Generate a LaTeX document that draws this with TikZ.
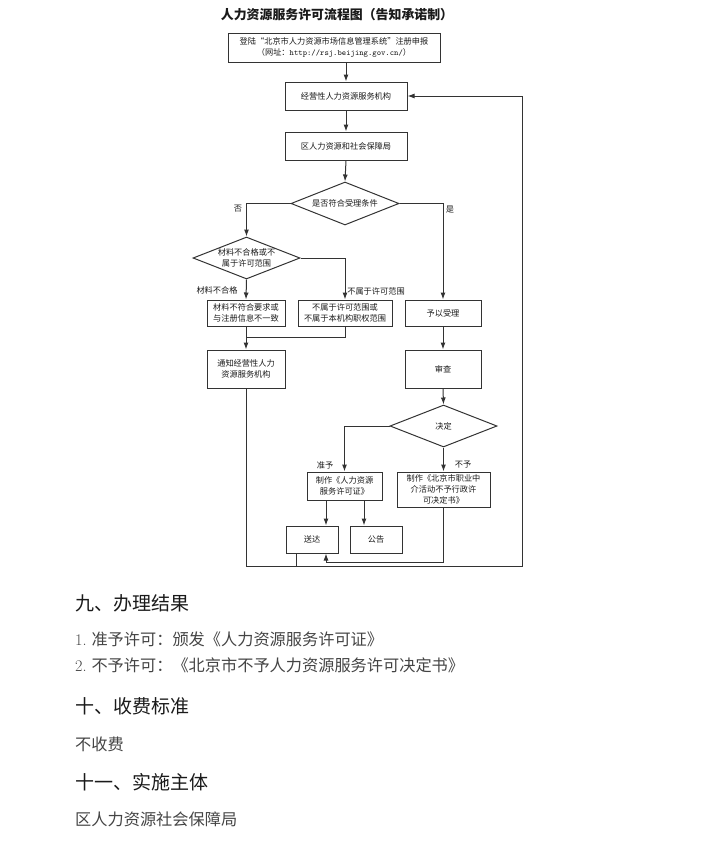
\documentclass[tikz,border=0pt]{standalone}
\usepackage{fontspec}
\usepackage{xcolor}
\usetikzlibrary{positioning,arrows.meta,shapes.geometric}
\newfontfamily\cjk{Noto Sans CJK SC}
\definecolor{LineGray}{HTML}{333333}
\definecolor{TextDark}{HTML}{1A1A1A}
\definecolor{BodyGray}{HTML}{444444}

\begin{document}
\begin{tikzpicture}[x=1pt, y=-1pt,
  every node/.style={font=\cjk\fontsize{8.2}{10.8}\selectfont, text=TextDark},
  BX/.style={draw=LineGray, line width=1pt, inner sep=0pt,
             minimum height=28pt, align=center},
  DM/.style={draw=LineGray, line width=1pt, diamond, aspect=2.5,
             inner sep=0pt, minimum width=108pt, minimum height=43pt,
             align=center},
  arr/.style={-{Latex[length=7pt,width=5pt]}, line width=1pt, LineGray},
  ln/.style={line width=1pt, LineGray},
  HD/.style={anchor=west, inner sep=0pt,
             font=\cjk\fontsize{19}{22}\selectfont, text=TextDark},
  TX/.style={anchor=west, inner sep=0pt,
             font=\cjk\fontsize{16.2}{19}\selectfont, text=BodyGray},
]
  \useasboundingbox (0,0) rectangle (722,862);

  % Title
  \node[font=\cjk\bfseries\fontsize{12.9}{14}\selectfont] (title) at (337,15)
    {人力资源服务许可流程图（告知承诺制）};

  % Main nodes
  \node[BX, minimum width=212pt, minimum height=29pt] (reg) at (334,47.5)
    {登陆“北京市人力资源市场信息管理系统”注册申报\\（网址：{\ttfamily http://rsj.beijing.gov.cn/}）};
  \node[BX, minimum width=122pt] (org) at (346,96) {经营性人力资源服务机构};
  \node[BX, minimum width=122pt] (bur) at (346,146) {区人力资源和社会保障局};

  \node[DM] (dc1) at (345,203.5) {是否符合受理条件};
  \node[DM, minimum width=107pt, minimum height=42pt] (dc2) at (246.5,258)
    {材料不合格或不\\属于许可范围};

  \node[BX, minimum width=78pt, minimum height=26pt] (bad) at (246,313)
    {材料不符合要求或\\与注册信息不一致};
  \node[BX, minimum width=94pt, minimum height=26pt] (out) at (345,313)
    {不属于许可范围或\\不属于本机构职权范围};
  \node[BX, minimum width=76pt, minimum height=26pt] (acc) at (443,313) {予以受理};

  \node[BX, minimum width=78pt, minimum height=38pt] (note) at (246,369)
    {通知经营性人力\\资源服务机构};
  \node[BX, minimum width=76pt, minimum height=38pt] (rev) at (443,369) {审查};

  \node[DM, minimum width=107pt, minimum height=42pt] (dc3) at (443.5,426) {决定};

  \node[BX, minimum width=75pt] (lic) at (344.5,486)
    {制作《人力资源\\服务许可证》};
  \node[BX, minimum width=93pt, minimum height=35pt] (rej) at (443.5,489.5)
    {制作《北京市职业中\\介活动不予行政许\\可决定书》};

  \node[BX, minimum width=52pt, minimum height=27pt] (dlv) at (312,539.5) {送达};
  \node[BX, minimum width=52pt, minimum height=27pt] (pub) at (376,539.5) {公告};

  % Helper coordinates
  \coordinate (merge)   at (246,337);
  \coordinate (rejTurn) at (443.5,562);
  \coordinate (loopBR)  at (522,566);

  % Arrows
  \draw[arr] (reg.south -| org.north) -- (org.north);
  \draw[arr] (org.south) -- (bur.north);
  \draw[arr] (bur.south) -- (dc1.north);
  \draw[arr] (dc1.west) -| (dc2.north);
  \draw[arr] (dc1.east) -| (acc.north);
  \draw[arr] (dc2.south) -- (bad.north);
  \draw[arr] (dc2.east) -| (out.north);
  \draw[arr] (bad.south) -- (note.north);
  \draw[ln]  (out.south) |- (merge);
  \draw[arr] (acc.south) -- (rev.north);
  \draw[arr] (rev.south) -- (dc3.north);
  \draw[arr] (dc3.west) -| (lic.north);
  \draw[arr] (dc3.south) -- (rej.north);
  \draw[arr] ([xshift=-18.5pt]lic.south) -- ([xshift=14pt]dlv.north);
  \draw[arr] ([xshift=19.5pt]lic.south) -- ([xshift=-12pt]pub.north);
  \draw[arr] (rej.south) -- (rejTurn) -| ([xshift=14pt]dlv.south);
  \draw[ln]  ([xshift=-16pt]dlv.south) -- ++(0,13);
  \draw[arr] (note.south) |- (loopBR) |- (org.east);

  % Labels
  \node at (238,209) {否};
  \node at (450,210) {是};
  \node at (217,290) {材料不合格};
  \node at (376,291) {不属于许可范围};
  \node at (325,465) {准予};
  \node at (463,465) {不予};

  % Text below the chart
  \node[HD] (h9)  at (75,603) {九、办理结果};
  \node[TX] (r1)  at (75,639) {{\rmfamily 1.} 准予许可：颁发《人力资源服务许可证》};
  \node[TX] (r2)  at (75,665) {{\rmfamily 2.} 不予许可：《北京市不予人力资源服务许可决定书》};
  \node[HD] (h10) at (75,706) {十、收费标准};
  \node[TX] (fee) at (75,744) {不收费};
  \node[HD] (h11) at (75,782) {十一、实施主体};
  \node[TX] (imp) at (75,819) {区人力资源社会保障局};

\end{tikzpicture}
\end{document}
